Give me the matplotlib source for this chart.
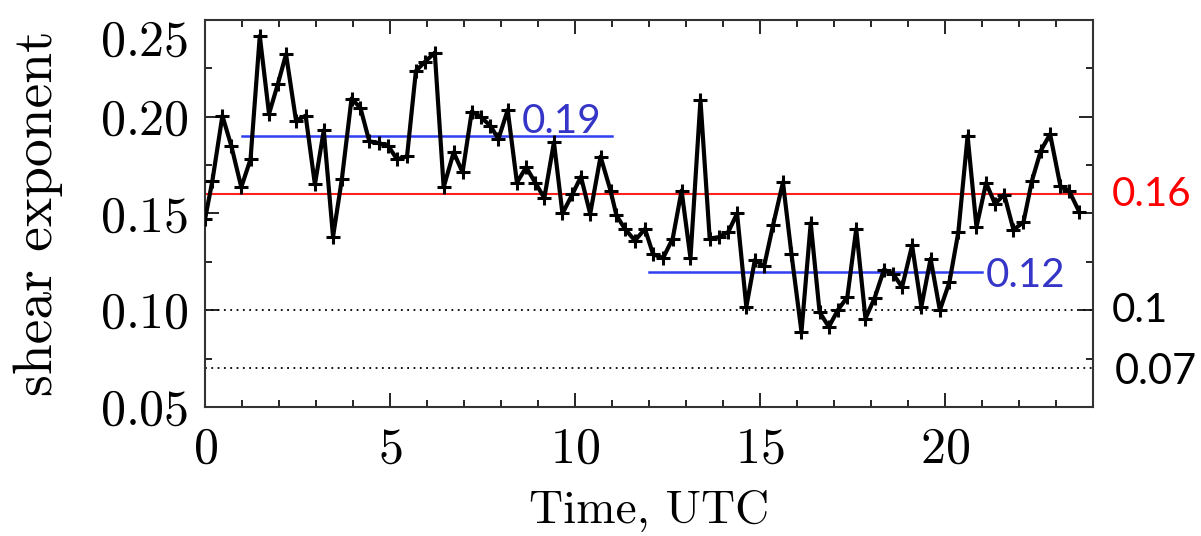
import matplotlib
matplotlib.use("Agg")
import matplotlib.pyplot as plt
from matplotlib.ticker import MultipleLocator

# hours (UTC) and shear exponent
hours = [
    0.00, 0.20, 0.47, 0.71, 0.98, 1.23, 1.48, 1.73, 1.97, 2.19, 2.46, 2.72,
    2.97, 3.21, 3.46, 3.70, 3.96, 4.20, 4.44, 4.69, 4.95, 5.19, 5.46, 5.70,
    5.95, 6.21, 6.45, 6.72, 6.96, 7.21, 7.46, 7.71,
    7.93, 8.18, 8.43, 8.68, 8.93, 9.17, 9.43, 9.66, 9.93, 10.16, 10.41, 10.69,
    10.96, 11.12, 11.35, 11.62, 11.89, 12.11, 12.38, 12.64, 12.88, 13.12, 13.39,
    13.64, 13.89, 14.14, 14.38, 14.63, 14.86, 15.11, 15.35, 15.62, 15.85,
    16.12, 16.37, 16.61, 16.86, 17.11, 17.36, 17.60, 17.85, 18.10, 18.35, 18.59,
    18.84, 19.11, 19.36, 19.61, 19.86, 20.12, 20.36, 20.61, 20.85, 21.11, 21.35,
    21.60, 21.85, 22.12, 22.35, 22.59, 22.84, 23.12, 23.36, 23.63,
]
shear = [
    0.147, 0.167, 0.2005, 0.185, 0.1636, 0.178, 0.2418, 0.2015, 0.217, 0.2323,
    0.198, 0.2005, 0.165, 0.193, 0.138, 0.168, 0.2094, 0.2046, 0.1873, 0.1864,
    0.185, 0.178, 0.1795, 0.2237, 0.2285, 0.2331, 0.1636, 0.1816, 0.1713, 0.2027,
    0.1997, 0.1954,
    0.1885, 0.2035, 0.166, 0.1739, 0.1658, 0.158, 0.1868, 0.150, 0.160, 0.169,
    0.1498, 0.1794, 0.1618, 0.149, 0.142, 0.136, 0.142, 0.129, 0.127, 0.137,
    0.1618, 0.127, 0.2086, 0.137, 0.1378, 0.1404, 0.150, 0.1017, 0.126, 0.1227,
    0.1438, 0.1661, 0.129,
    0.0888, 0.145, 0.099, 0.0914, 0.1003, 0.1068, 0.142, 0.0957, 0.1065, 0.121,
    0.1189, 0.112, 0.1335, 0.1017, 0.1266, 0.100, 0.1146, 0.1404, 0.190, 0.143,
    0.1658, 0.155, 0.1598, 0.1416, 0.1455, 0.167, 0.1825, 0.191, 0.164, 0.1615,
    0.1507,
]

# period means (blue) : value, start hour, end hour
mean_values = [0.19, 0.12]
mean_starts = [1.0, 12.0]
mean_ends = [11.0, 21.0]
overall_mean = 0.16
ref_levels = [0.10, 0.07]
ref_labels = ["0.1", "0.07"]

x_ticks = [0, 5, 10, 15, 20]
y_ticks = [0.05, 0.10, 0.15, 0.20, 0.25]

plt.rcParams["axes.formatter.use_mathtext"] = True
serif = "cmr10"
sans = ["Lato", "DejaVu Sans"]

fig = plt.figure(figsize=(12.01, 5.36), dpi=100)
ax = fig.add_axes([0.1707, 0.2407, 0.7394, 0.722])

# reference levels
ax.axhline(overall_mean, color="#ff2020", lw=1.5, zorder=2)
for lvl in ref_levels:
    ax.axhline(lvl, color="black", lw=1.3, ls=(0, (1, 2.5)), zorder=1)
for v, a, b in zip(mean_values, mean_starts, mean_ends):
    ax.plot([a, b], [v, v], color="#3040f0", lw=1.8, zorder=2)

ax.plot(hours, shear, color="black", lw=3, marker="+", ms=10, mew=2.2, zorder=3)

# annotations
ax.text(8.55, 0.1918, "0.19", color="#3535c8", fontsize=29, family=sans, va="baseline")
ax.text(21.1, 0.112, "0.12", color="#3535c8", fontsize=29, family=sans, va="baseline")
ax.text(24.5, overall_mean, "0.16", color="#ff0000", fontsize=29, family=sans,
        va="center", clip_on=False)
ax.text(24.5, ref_levels[0], ref_labels[0], color="black", fontsize=29, family=sans,
        va="center", clip_on=False)
ax.text(24.6, ref_levels[1] - 0.002, ref_labels[1], color="black", fontsize=30,
        family=sans, va="center", clip_on=False)

ax.set_xlim(0, 24)
ax.set_ylim(0.05, 0.25)
ax.set_xticks(x_ticks)
ax.set_yticks(y_ticks)
ax.xaxis.set_minor_locator(MultipleLocator(1))
ax.yaxis.set_minor_locator(MultipleLocator(0.025))
ax.tick_params(which="both", direction="in", top=True, right=True, width=1.2)
ax.tick_params(which="major", length=10, labelsize=36)
ax.tick_params(which="minor", length=5)
ax.tick_params(axis="y", pad=12)
ax.tick_params(axis="x", pad=14)
for lab in ax.get_xticklabels() + ax.get_yticklabels():
    lab.set_family(serif)
ax.get_yticklabels()[-1].set_verticalalignment("top")

for sp in ax.spines.values():
    sp.set_linewidth(1.5)
    sp.set_color("#333333")

ax.set_xlabel("Time, UTC", fontsize=34, family=serif)
ax.set_ylabel("shear exponent", fontsize=40, family=serif)
ax.xaxis.set_label_coords(0.5, -0.215)
ax.yaxis.set_label_coords(-0.16, 0.5)

fig.savefig("out.png", dpi=100)
